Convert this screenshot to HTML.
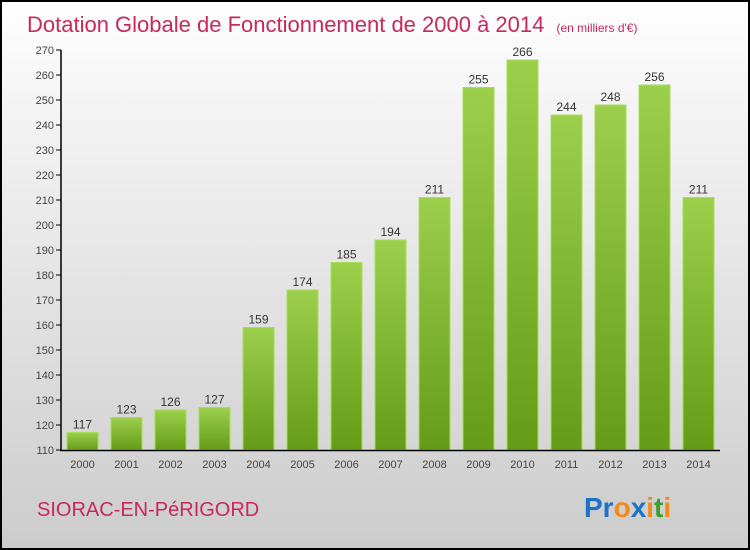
<!DOCTYPE html>
<html><head><meta charset="utf-8"><style>
body{margin:0}
#c{position:relative;width:750px;height:550px;box-sizing:border-box;border:2px solid #000;background:linear-gradient(#fff,#f6f6f6 15%,#ccc);font-family:"Liberation Sans",sans-serif;overflow:hidden}
</style></head><body>
<div id="c">
<svg id="s" width="746" height="546" style="position:absolute;left:0;top:0">
<defs><linearGradient id="g" x1="0" y1="0" x2="0" y2="1"><stop offset="0" stop-color="#9ccf4c"/><stop offset="1" stop-color="#659c17"/></linearGradient></defs>
<text x="25" y="30" font-size="22" fill="#c8285a">Dotation Globale de Fonctionnement de 2000 à 2014 <tspan font-size="12" dx="6">(en milliers d'€)</tspan></text>
<text x="35" y="514" font-size="20" fill="#c8285a">SIORAC-EN-PéRIGORD</text>
<text x="582" y="515" font-size="28" font-weight="bold"><tspan fill="#1a73c8">Pr</tspan><tspan fill="#f28a1a">o</tspan><tspan fill="#1a73c8">x</tspan><tspan fill="#f28a1a">i</tspan><tspan fill="#3aa02a">t</tspan><tspan fill="#f28a1a">i</tspan></text>
<g id="plot"></g>
</svg>
</div>
<script>
const years=["2000","2001","2002","2003","2004","2005","2006","2007","2008","2009","2010","2011","2012","2013","2014"];
const values=[117,123,126,127,159,174,185,194,211,255,266,244,248,256,211];
const ticks=[110,120,130,140,150,160,170,180,190,200,210,220,230,240,250,260,270];
const ns="http://www.w3.org/2000/svg",p=document.getElementById('plot');
const yS=v=>448-(v-110)*2.5, xS=i=>65+44*i;
function mk(t,a){const e=document.createElementNS(ns,t);for(const k in a)e.setAttribute(k,a[k]);p.appendChild(e);return e;}
ticks.forEach(t=>{
 const l=mk('line',{x1:54,x2:59,y1:yS(t),y2:yS(t),stroke:'#000'});
 
 
 const tx=mk('text',{x:52,y:yS(t)+4,'text-anchor':'end','font-size':11,fill:'#444'});tx.textContent=t;
 
 
});
values.forEach((v,i)=>{
 const r=mk('rect',{x:xS(i),y:yS(v),width:31,height:448-yS(v),fill:'url(#g)',stroke:'#a8dc5a','stroke-width':1});
 
 
 const t=mk('text',{x:xS(i)+15.5,y:yS(v)-4,'text-anchor':'middle','font-size':12,fill:'#333'});t.textContent=v;
 
 
 const x=mk('text',{x:xS(i)+15.5,y:466,'text-anchor':'middle','font-size':11,fill:'#444'});x.textContent=years[i];
 
 
});
const ya=mk('line',{x1:59,x2:59,y1:yS(270),y2:449,stroke:'#000','stroke-width':1.5});


const xa=mk('line',{x1:58,x2:718,y1:448.5,y2:448.5,stroke:'#000','stroke-width':1.5});


</script>
</body></html>
